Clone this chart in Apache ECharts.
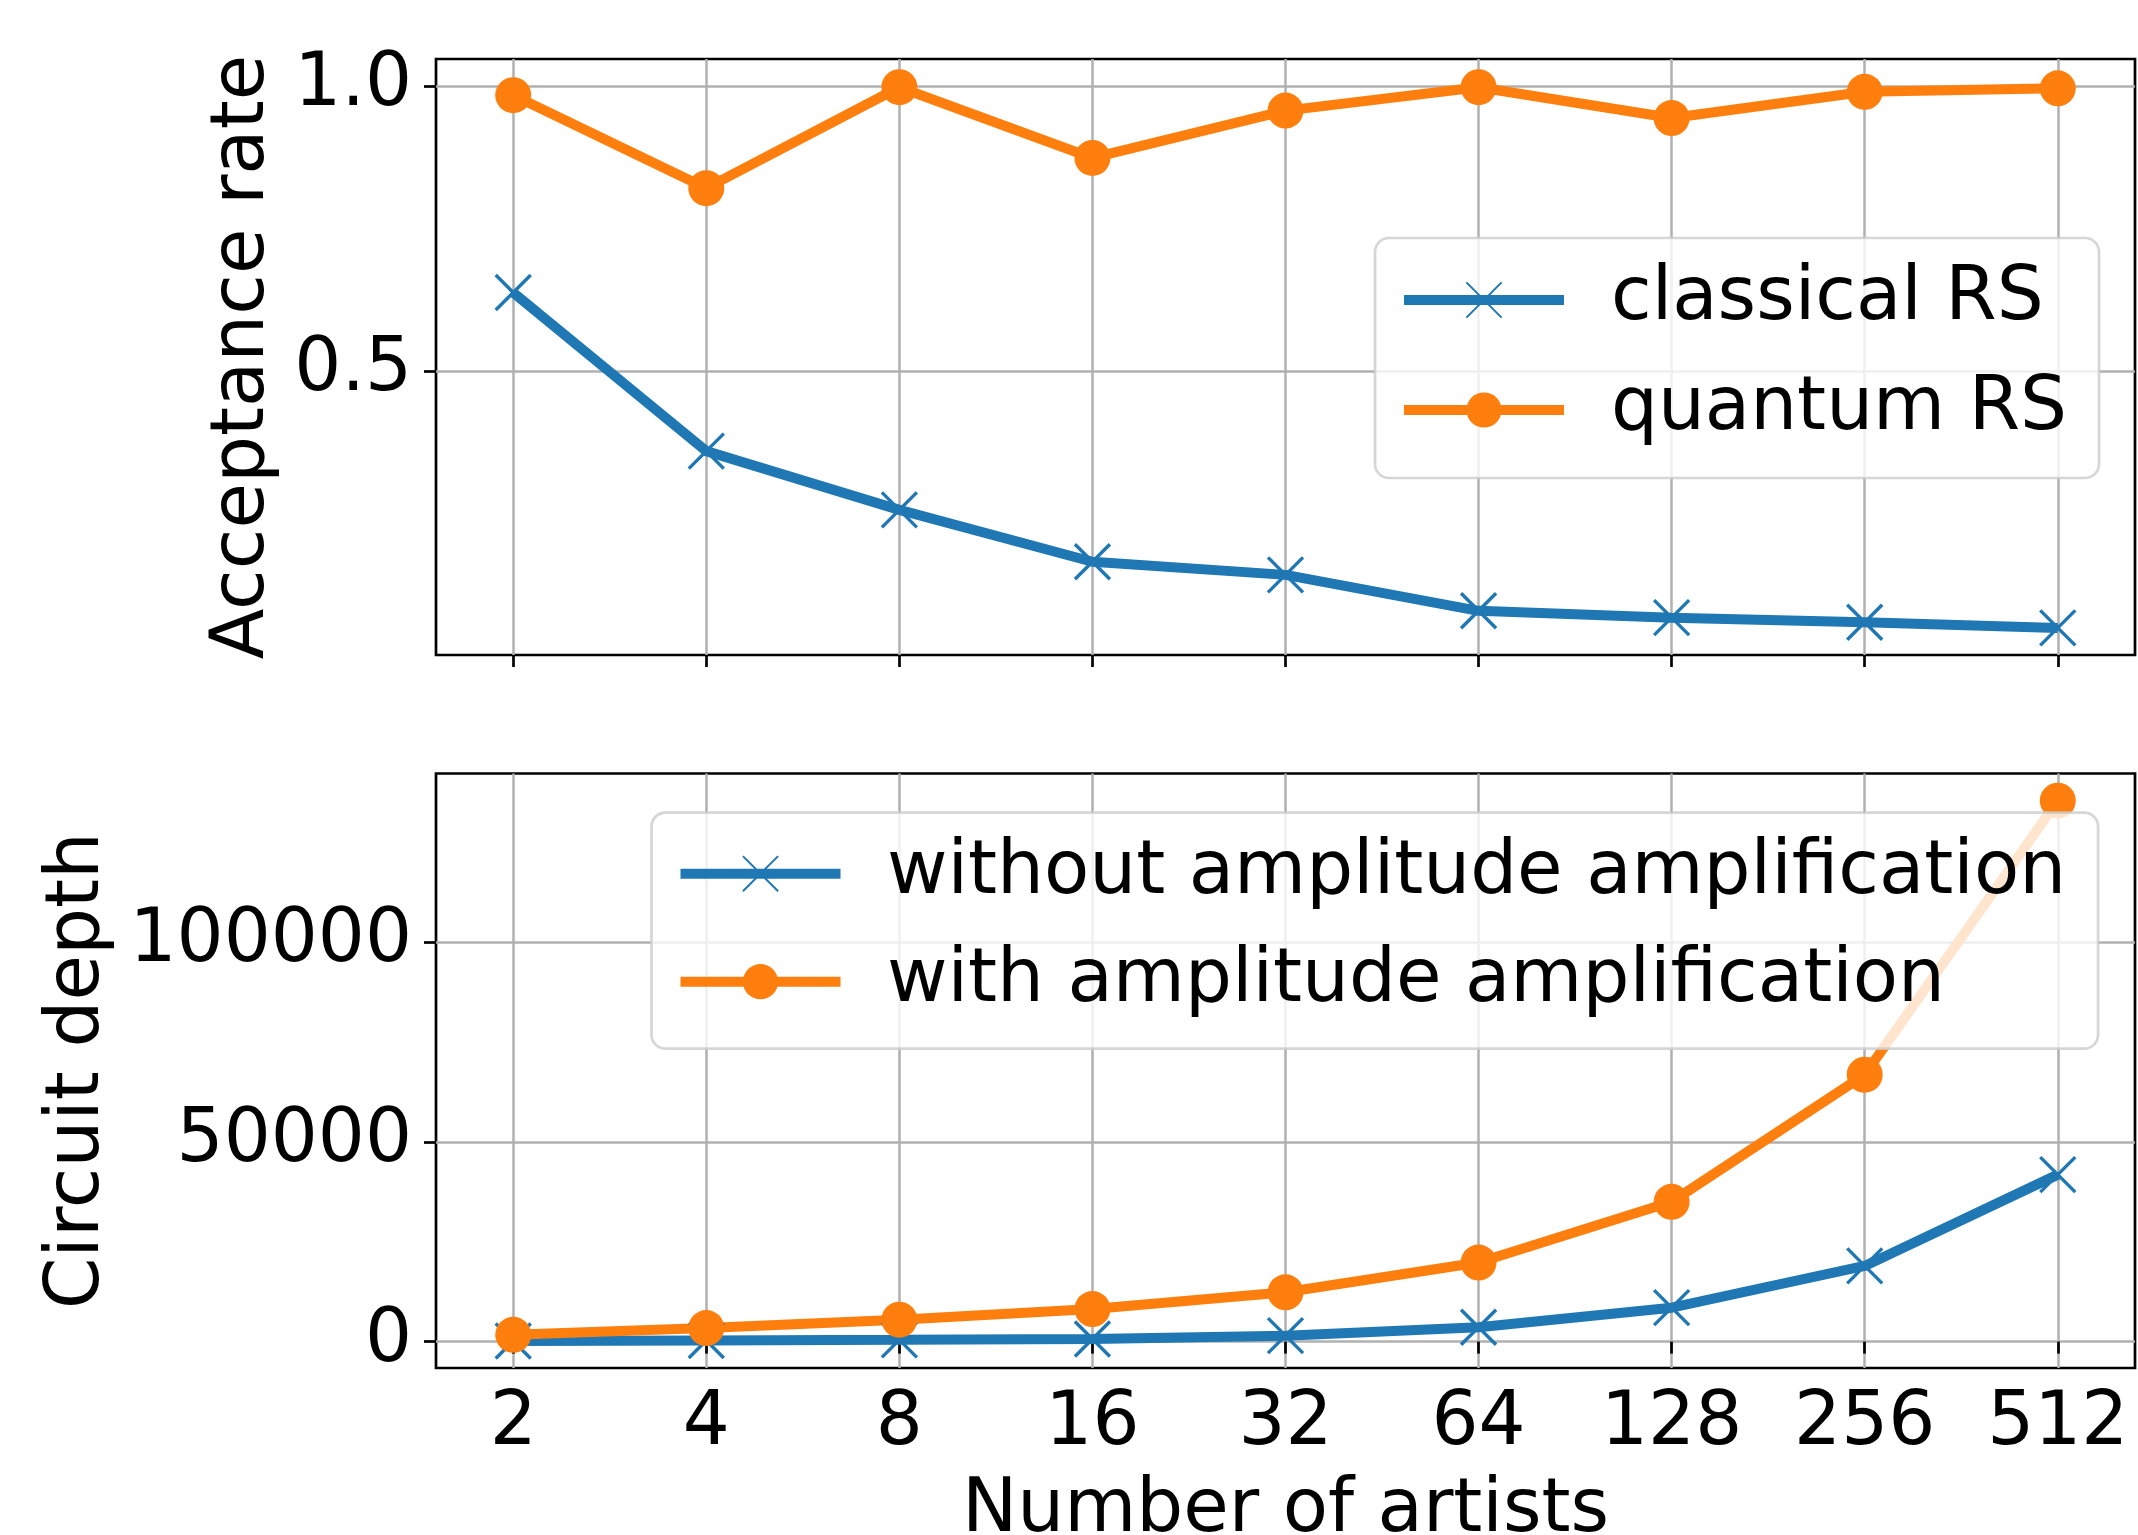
<!DOCTYPE html>
<html>
<head>
<meta charset="utf-8">
<script src="https://cdn.jsdelivr.net/npm/echarts@6/dist/echarts.min.js"></script>
<style>
html,body{margin:0;padding:0;background:#fff;}
#c{width:2138px;height:1535px;}
</style>
</head>
<body>
<div id="c"></div>
<script>
const artists = [2, 4, 8, 16, 32, 64, 128, 256, 512];
const classicalRS = [0.638, 0.360, 0.257, 0.166, 0.143, 0.080, 0.068, 0.060, 0.050];
const quantumRS = [0.984, 0.821, 0.998, 0.874, 0.957, 0.998, 0.944, 0.990, 0.996];
const withoutAA = [150, 300, 450, 650, 1500, 3600, 8500, 18950, 41800];
const withAA = [1700, 3400, 5500, 8150, 12350, 19800, 35000, 66800, 135400];
const accTicks = [0.5, 1.0];
const depthTicks = [0, 50000, 100000];

const BLUE = '#1f77b4', ORANGE = '#ff7f0e';
const FONT = 'DejaVu Sans';
const FS = 74;
const xMark = 'path://M0,0L35,35M35,0L0,35';

function pairs(ys) { return artists.map((a, i) => [a, ys[i]]); }

function xAxis(gridIndex, showLabels, name) {
  return {
    type: 'log', logBase: 2, gridIndex,
    min: Math.pow(2, 0.6), max: Math.pow(2, 9.4),
    name: name || '', nameLocation: 'middle', nameGap: 107,
    nameTextStyle: { fontFamily: FONT, fontSize: FS, color: '#000' },
    axisLine: { show: false },
    axisTick: { show: true, inside: false, length: 12, customValues: artists,
      lineStyle: { color: '#000', width: 2.7 } },
    axisLabel: { show: showLabels, customValues: artists, margin: 20,
      fontFamily: FONT, fontSize: FS, color: '#000' },
    splitLine: { show: true, lineStyle: { color: '#b0b0b0', width: 2.5 } },
    minorTick: { show: false }, minorSplitLine: { show: false }
  };
}
function yAxis(gridIndex, min, max, ticks, name, gap) {
  return {
    type: 'value', gridIndex, min, max,
    name, nameLocation: 'middle', nameRotate: 90, nameGap: gap,
    nameTextStyle: { fontFamily: FONT, fontSize: FS, color: '#000' },
    axisLine: { show: false },
    axisTick: { show: true, inside: false, length: 12, customValues: ticks,
      lineStyle: { color: '#000', width: 2.7 } },
    axisLabel: { customValues: ticks, margin: 24, fontFamily: FONT, fontSize: FS, color: '#000',
      formatter: v => (gridIndex === 0 ? v.toFixed(1) : String(v)) },
    splitLine: { show: true, lineStyle: { color: '#b0b0b0', width: 2.5 } }
  };
}
function legend(left, top, names, textPad, padTop, gap, padBottom) {
  return {
    orient: 'vertical', left, top,
    data: names,
    itemWidth: 160, itemHeight: 44, itemGap: gap,
    padding: [padTop, 32, padBottom, 24],
    backgroundColor: 'rgba(255,255,255,0.8)',
    borderColor: 'rgba(204,204,204,0.8)', borderWidth: 2.7, borderRadius: 14,
    lineStyle: { width: 10 },
    textStyle: { fontFamily: FONT, fontSize: FS, color: '#000', padding: [0, 0, 0, textPad] },
    selectedMode: false
  };
}
function lineSeries(name, xi, ys, color, isX) {
  return {
    name, type: 'line', xAxisIndex: xi, yAxisIndex: xi,
    data: pairs(ys),
    symbol: isX ? xMark : 'circle',
    symbolSize: isX ? 35 : 36,
    showAllSymbol: true,
    lineStyle: { color, width: 10 },
    itemStyle: isX ? { color, borderColor: color, borderWidth: 3.4 } : { color, borderWidth: 0 },
    emphasis: { disabled: true },
    z: 2
  };
}

const chart = echarts.init(document.getElementById('c'), null, { renderer: 'canvas' });
chart.setOption({
  animation: false,
  backgroundColor: '#fff',
  textStyle: { fontFamily: FONT },
  grid: [
    { left: 436, right: 3, top: 59, height: 596, outerBoundsMode: 'none', containLabel: false,
      show: true, borderColor: '#000', borderWidth: 2.7, backgroundColor: 'transparent' },
    { left: 436, right: 3, top: 773.5, height: 594.5, outerBoundsMode: 'none', containLabel: false,
      show: true, borderColor: '#000', borderWidth: 2.7, backgroundColor: 'transparent' }
  ],
  xAxis: [xAxis(0, false), xAxis(1, true, 'Number of artists')],
  yAxis: [
    yAxis(0, 0.0025, 1.0475, accTicks, 'Acceptance rate', 155),
    yAxis(1, -6600, 142200, depthTicks, 'Circuit depth', 320)
  ],
  legend: [
    legend(1375, 238, ['classical RS', 'quantum RS'], 42, 25, 36, 31),
    legend(651.5, 812.7, ['without amplitude amplification', 'with amplitude amplification'], 41.5, 24, 34, 30)
  ],
  series: [
    lineSeries('classical RS', 0, classicalRS, BLUE, true),
    lineSeries('quantum RS', 0, quantumRS, ORANGE, false),
    lineSeries('without amplitude amplification', 1, withoutAA, BLUE, true),
    lineSeries('with amplitude amplification', 1, withAA, ORANGE, false)
  ]
});
</script>
</body>
</html>
